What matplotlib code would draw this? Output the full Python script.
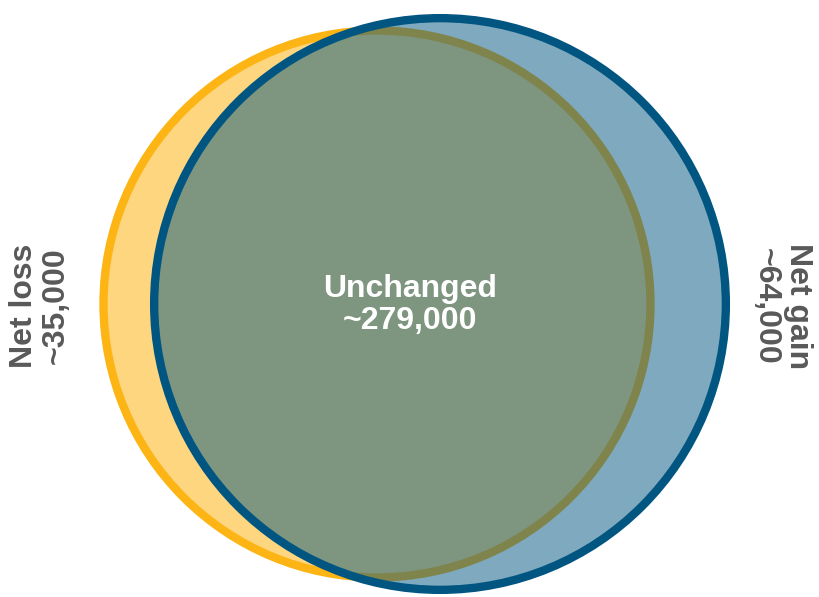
import numpy as np
import matplotlib.pyplot as plt
from matplotlib.patches import Circle

# counts for the two sets
labels = ["Net loss", "Unchanged", "Net gain"]
counts = [35000, 279000, 64000]

# set sizes (area proportional)
loss_total = counts[0] + counts[1]
gain_total = counts[1] + counts[2]

scale = 273.5 / np.sqrt(loss_total)
r_loss = scale * np.sqrt(loss_total)
r_gain = scale * np.sqrt(gain_total)

fig = plt.figure(figsize=(8.2, 5.97), dpi=100)
ax = fig.add_axes([0, 0, 1, 1])
ax.set_xlim(0, 820)
ax.set_ylim(597, 0)
ax.set_aspect("equal")
ax.axis("off")

yellow_edge = "#FDB515"
yellow_fill = "#FED680"
blue = "#005581"

ax.add_patch(Circle((377, 304), r_loss, facecolor=yellow_fill, edgecolor=yellow_edge, lw=6.0))
ax.add_patch(Circle((440, 304), r_gain, facecolor=blue, edgecolor="none", alpha=0.5))
ax.add_patch(Circle((440, 304), r_gain, facecolor="none", edgecolor=blue, lw=6.0))

font = ["Liberation Sans", "DejaVu Sans"]
ax.text(410, 305, f"{labels[1]}\n~{counts[1]:,}", color="white", fontsize=23,
        fontweight="bold", ha="center", va="center", family=font, linespacing=1.1)
ax.text(40, 306, f"{labels[0]}\n~{counts[0]:,}", color="#595959", fontsize=23,
        fontweight="bold", ha="center", va="center", rotation=90, family=font,
        linespacing=1.1)
ax.text(782, 306, f"{labels[2]}\n~{counts[2]:,}", color="#595959", fontsize=23,
        fontweight="bold", ha="center", va="center", rotation=270, family=font,
        linespacing=1.1)

fig.savefig("out.png", dpi=100)
